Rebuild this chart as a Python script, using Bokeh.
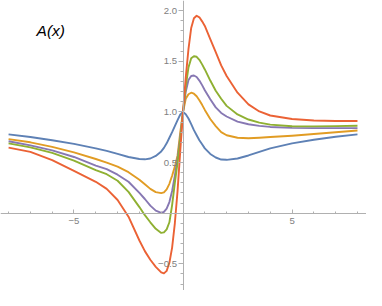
from bokeh.plotting import figure
from bokeh.models import LinearAxis, FixedTicker, CustomJSTickFormatter, Label
from bokeh.embed import file_html
from bokeh.resources import INLINE

# ---- data ----
x = [-8, -7, -6, -5, -4, -3.5, -3, -2.5, -2, -1.75, -1.5, -1.25, -1, -0.875, -0.75,
     -0.625, -0.5, -0.375, -0.25, -0.125, 0, 0.125, 0.25, 0.375, 0.5, 0.625, 0.75,
     0.875, 1, 1.25, 1.5, 1.75, 2, 2.5, 3, 3.5, 4, 5, 6, 7, 8]

blue = [0.778, 0.752, 0.72, 0.685, 0.64, 0.615, 0.585, 0.555, 0.535, 0.532, 0.54, 0.565,
        0.61, 0.645, 0.69, 0.745, 0.80, 0.86, 0.92, 0.975, 1.0, 0.978, 0.935, 0.88, 0.82,
        0.77, 0.72, 0.68, 0.64, 0.585, 0.55, 0.53, 0.527, 0.54, 0.57, 0.605, 0.64, 0.69,
        0.725, 0.755, 0.778]

orange = [0.732, 0.70, 0.655, 0.60, 0.535, 0.50, 0.46, 0.405, 0.33, 0.285, 0.24, 0.208,
          0.198, 0.205, 0.235, 0.29, 0.37, 0.46, 0.57, 0.80, 1.0, 1.13, 1.175, 1.19, 1.18,
          1.155, 1.115, 1.07, 1.02, 0.93, 0.86, 0.80, 0.77, 0.745, 0.74, 0.745, 0.752,
          0.765, 0.782, 0.80, 0.816]

purple = [0.71, 0.67, 0.62, 0.555, 0.47, 0.435, 0.38, 0.31, 0.20, 0.14, 0.075, 0.025,
          0.003, 0.012, 0.045, 0.11, 0.22, 0.37, 0.54, 0.75, 1.0, 1.2, 1.315, 1.355, 1.36,
          1.345, 1.31, 1.265, 1.215, 1.125, 1.045, 0.99, 0.955, 0.905, 0.878, 0.862,
          0.852, 0.843, 0.84, 0.84, 0.84]

green = [0.689, 0.65, 0.595, 0.52, 0.425, 0.385, 0.32, 0.21, 0.06, -0.02, -0.09, -0.155,
         -0.195, -0.19, -0.16, -0.09, 0.08, 0.30, 0.50, 0.73, 1.0, 1.25, 1.44, 1.53, 1.55,
         1.545, 1.515, 1.47, 1.42, 1.31, 1.21, 1.13, 1.06, 0.975, 0.925, 0.895, 0.875,
         0.858, 0.857, 0.86, 0.863]

red = [0.648, 0.605, 0.525, 0.418, 0.31, 0.24, 0.13, -0.035, -0.27, -0.375, -0.46, -0.53,
       -0.585, -0.595, -0.57, -0.49, -0.34, -0.10, 0.22, 0.62, 1.0, 1.34, 1.62, 1.83, 1.925,
       1.95, 1.935, 1.895, 1.85, 1.72, 1.59, 1.46, 1.355, 1.19, 1.075, 1.005, 0.965, 0.93,
       0.915, 0.91, 0.91]

series = [(blue, "#5E81B5"), (orange, "#E19C24"), (purple, "#8778B3"),
          (green, "#8FB032"), (red, "#EB6235")]

x_major = [-5, 5]
x_minor = [-8, -7, -6, -5, -4, -3, -2, -1, 1, 2, 3, 4, 5, 6, 7, 8]
y_major = [-0.5, 0.5, 1.0, 1.5, 2.0]
y_minor = [round(-0.7 + 0.1 * i, 1) for i in range(28)]

title_text = "A(x)"

# ---- figure ----
p = figure(width=366, height=290, x_range=(-8.37, 8.414), y_range=(-0.764, 2.101),
           output_backend="svg", toolbar_location=None, min_border=0,
           x_axis_location=None, y_axis_location=None)
p.outline_line_color = None
p.grid.visible = False
p.background_fill_color = "white"

for ys, col in series:
    p.line(x, ys, line_color=col, line_width=1.9, line_join="round")

axis_col = "#b0b0b0"
lab_col = "#808080"

xaxis = LinearAxis(fixed_location=0,
                   ticker=FixedTicker(ticks=x_major, minor_ticks=x_minor),
                   formatter=CustomJSTickFormatter(code="return tick < 0 ? '\u2212' + Math.abs(tick) : '' + tick;"))
xaxis.axis_line_color = axis_col
xaxis.major_tick_line_color = axis_col
xaxis.minor_tick_line_color = axis_col
xaxis.major_tick_in = 4
xaxis.major_tick_out = 0
xaxis.minor_tick_in = 2
xaxis.minor_tick_out = 0
xaxis.major_label_standoff = 5
xaxis.major_label_text_color = lab_col
xaxis.major_label_text_font = "Liberation Sans"
xaxis.major_label_text_font_size = "9.6px"
p.add_layout(xaxis, "below")

yaxis = LinearAxis(fixed_location=0,
                   ticker=FixedTicker(ticks=y_major, minor_ticks=y_minor),
                   formatter=CustomJSTickFormatter(code="return tick < 0 ? '\u2212' + Math.abs(tick).toFixed(1) : tick.toFixed(1);"))
yaxis.axis_line_color = axis_col
yaxis.major_tick_line_color = axis_col
yaxis.minor_tick_line_color = axis_col
yaxis.major_tick_in = 0
yaxis.major_tick_out = 5
yaxis.minor_tick_in = 0
yaxis.minor_tick_out = 3
yaxis.major_label_standoff = 1
yaxis.major_label_text_color = lab_col
yaxis.major_label_text_font = "Liberation Sans"
yaxis.major_label_text_font_size = "9.6px"
p.add_layout(yaxis, "left")

p.add_layout(Label(x=50.3, y=259.6, x_units="screen", y_units="screen", text=title_text,
                   text_font="Liberation Sans", text_font_style="italic",
                   text_font_size="15.5px", text_align="center", text_baseline="middle",
                   text_color="black"))

open("out.html", "w").write(file_html(p, INLINE))
